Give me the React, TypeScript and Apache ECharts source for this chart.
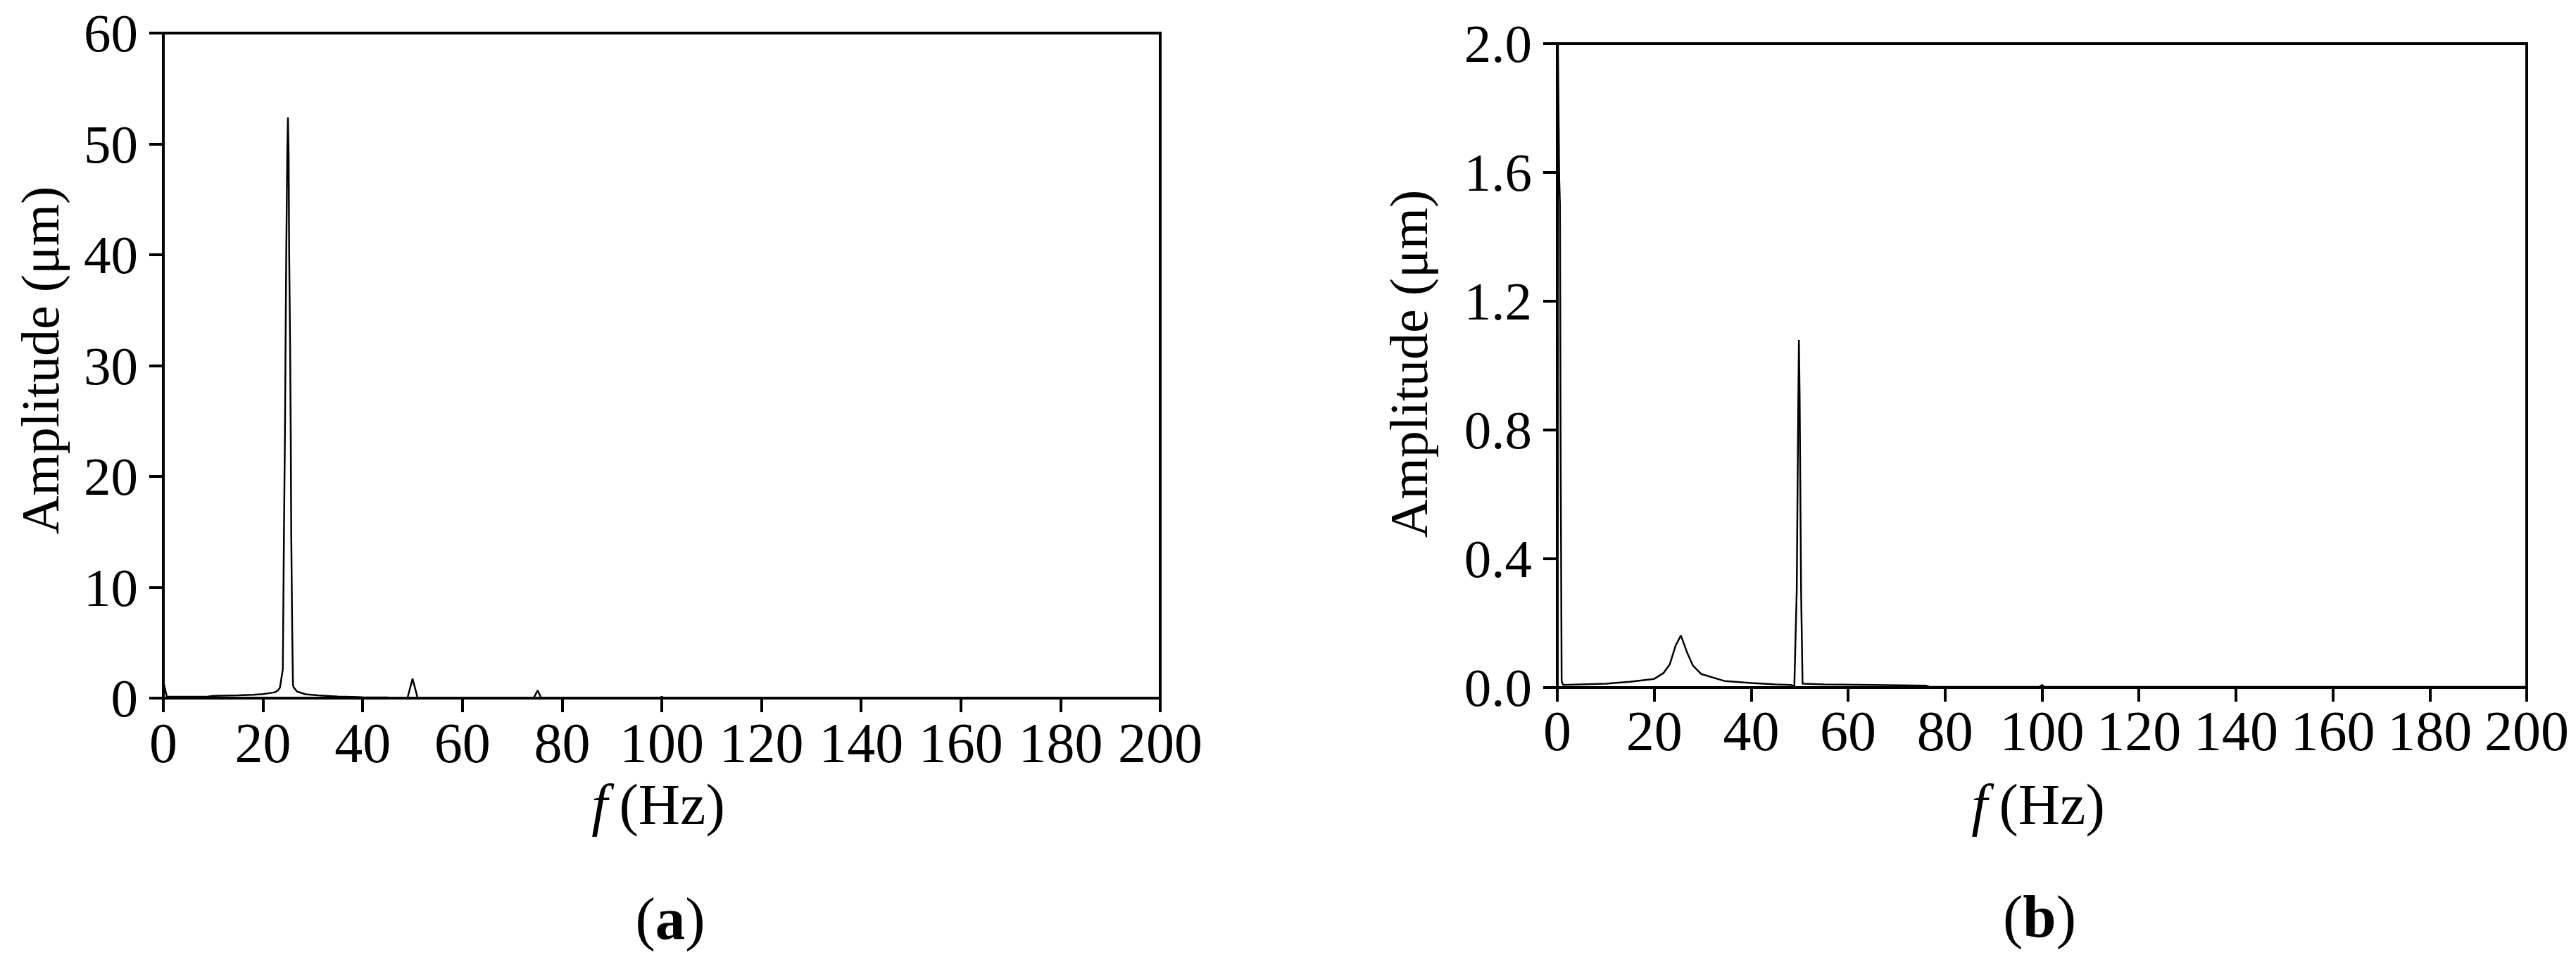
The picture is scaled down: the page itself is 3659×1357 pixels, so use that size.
import React, { useEffect, useRef } from "react";
import * as echarts from "echarts";

// ---- Data ----
// Panel (a): amplitude spectrum, frequency in Hz, amplitude in µm
const freqA = [0, 0.7, 2, 5, 9, 10, 15, 18, 20, 22, 22.5, 23, 23.4, 23.97, 24.2, 24.4, 24.53, 24.67, 24.86, 25.0, 25.14, 25.24, 25.43, 25.57, 25.66, 25.85, 26.0, 26.1, 26.8, 28.5, 31, 35, 40, 45, 49, 50, 51, 55, 70, 74.3, 75.1, 75.8, 90, 99.5, 100, 100.5, 120, 150, 200];
const ampA = [1.5, 0.12, 0.12, 0.13, 0.15, 0.2, 0.25, 0.3, 0.37, 0.5, 0.55, 0.7, 0.95, 2.6, 14.7, 23.9, 32.4, 40.4, 49, 52.4, 49, 40.4, 32, 23.4, 14.9, 6.4, 1.33, 1.0, 0.6, 0.35, 0.25, 0.15, 0.08, 0.06, 0.05, 1.75, 0.05, 0.04, 0.03, 0.03, 0.69, 0.03, 0.02, 0.02, 0.12, 0.02, 0.02, 0.02, 0.02];

// Panel (b)
const freqB = [0, 0.4, 0.55, 0.7, 0.9, 1.2, 5, 10, 15, 20, 21.9, 23.2, 24.4, 25.5, 26.8, 28, 29.7, 34.6, 40, 45, 48.3, 48.9, 49.4, 49.7, 49.85, 50.0, 50.3, 50.6, 55, 65, 76, 77, 99.5, 100, 100.5, 150, 200];
const ampB = [2.2, 1.58, 1.5, 0.7, 0.02, 0.008, 0.01, 0.012, 0.018, 0.027, 0.045, 0.072, 0.13, 0.162, 0.108, 0.068, 0.042, 0.02, 0.014, 0.01, 0.008, 0.003, 0.3, 0.85, 1.08, 0.9, 0.3, 0.012, 0.01, 0.008, 0.006, 0.002, 0.002, 0.008, 0.002, 0.002, 0.002];

const xTicks = { min: 0, max: 200, interval: 20 };
const yTicksA = { min: 0, max: 60, interval: 10 };
const yTicksB = { min: 0, max: 2, interval: 0.4 };

const panelLabels = ["(a)", "(b)"];
const yTitle = "Amplitude (\u03bcm)";

const FONT = "'Liberation Serif', 'Times New Roman', serif";

function pairs(xs: number[], ys: number[]) {
  return xs.map((x, i) => [x, ys[i]]);
}

export default function App() {
  const ref = useRef<HTMLDivElement>(null);
  useEffect(() => {
    if (!ref.current) return;
    const chart = echarts.init(ref.current, null, { renderer: "svg" });

    const axisLine = { show: true, lineStyle: { color: "#000", width: 4 } };
    const axisTick = { show: true, inside: false, length: 20, lineStyle: { color: "#000", width: 4 } };

    const xAxisBase = (gridIndex: number, margin: number) => ({
      type: "value",
      gridIndex,
      ...xTicks,
      axisLine,
      axisTick,
      splitLine: { show: false },
      axisLabel: { fontSize: 80, fontFamily: FONT, color: "#000", margin },
    });

    const option: any = {
      animation: false,
      backgroundColor: "#fff",
      grid: [
        { left: 232, top: 47, width: 1416, height: 945, show: true, borderColor: "#000", borderWidth: 4 },
        { left: 2212, top: 62, width: 1377, height: 915, show: true, borderColor: "#000", borderWidth: 4 },
      ],
      xAxis: [xAxisBase(0, 24), xAxisBase(1, 22)],
      yAxis: [
        {
          type: "value",
          gridIndex: 0,
          ...yTicksA,
          axisLine,
          axisTick,
          splitLine: { show: false },
          axisLabel: { fontSize: 77, fontFamily: FONT, color: "#000", margin: 36 },
        },
        {
          type: "value",
          gridIndex: 1,
          ...yTicksB,
          axisLine,
          axisTick,
          splitLine: { show: false },
          axisLabel: {
            fontSize: 77,
            fontFamily: FONT,
            color: "#000",
            margin: 36,
            formatter: (v: number) => v.toFixed(1),
          },
        },
      ],
      series: [
        {
          type: "line",
          xAxisIndex: 0,
          yAxisIndex: 0,
          data: pairs(freqA, ampA),
          symbol: "none",
          clip: true,
          lineStyle: { color: "#000", width: 2.5 },
        },
        {
          type: "line",
          xAxisIndex: 1,
          yAxisIndex: 1,
          data: pairs(freqB, ampB),
          symbol: "none",
          clip: true,
          lineStyle: { color: "#000", width: 2.5 },
        },
      ],
      graphic: [
        {
          type: "text",
          x: 57,
          y: 512,
          rotation: Math.PI / 2,
          style: { text: yTitle, font: `76px ${FONT}`, fill: "#000", align: "center", verticalAlign: "middle" },
        },
        {
          type: "text",
          x: 2001,
          y: 517,
          rotation: Math.PI / 2,
          style: { text: yTitle, font: `76px ${FONT}`, fill: "#000", align: "center", verticalAlign: "middle" },
        },
        {
          type: "text",
          x: 935,
          y: 1143,
          style: {
            text: "{i|f}{n|\u2009(Hz)}",
            align: "center",
            verticalAlign: "middle",
            rich: {
              i: { fontFamily: FONT, fontSize: 82, fontStyle: "italic", fill: "#000" },
              n: { fontFamily: FONT, fontSize: 82, fill: "#000" },
            },
          },
        },
        {
          type: "text",
          x: 2895,
          y: 1143,
          style: {
            text: "{i|f}{n|\u2009(Hz)}",
            align: "center",
            verticalAlign: "middle",
            rich: {
              i: { fontFamily: FONT, fontSize: 82, fontStyle: "italic", fill: "#000" },
              n: { fontFamily: FONT, fontSize: 82, fill: "#000" },
            },
          },
        },
        {
          type: "text",
          x: 952,
          y: 1305,
          style: {
            text: "{p|(}{b|a}{p|)}",
            align: "center",
            verticalAlign: "middle",
            rich: {
              p: { fontFamily: FONT, fontSize: 85, fill: "#000" },
              b: { fontFamily: FONT, fontSize: 85, fontWeight: "bold", fill: "#000" },
            },
          },
        },
        {
          type: "text",
          x: 2897,
          y: 1302,
          style: {
            text: "{p|(}{b|b}{p|)}",
            align: "center",
            verticalAlign: "middle",
            rich: {
              p: { fontFamily: FONT, fontSize: 85, fill: "#000" },
              b: { fontFamily: FONT, fontSize: 85, fontWeight: "bold", fill: "#000" },
            },
          },
        },
      ],
    };
    void panelLabels;
    chart.setOption(option);
    return () => chart.dispose();
  }, []);

  return (
    <div
      ref={ref}
      style={{ position: "fixed", left: 0, top: 0, width: 3659, height: 1357, background: "#fff" }}
    />
  );
}
